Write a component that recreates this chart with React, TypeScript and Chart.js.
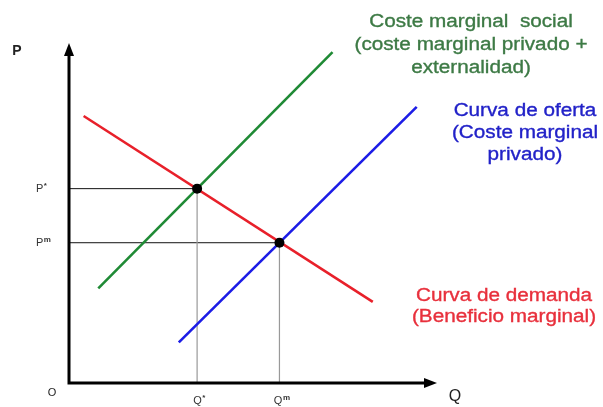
import React, { useEffect, useRef } from "react";
import { Chart, registerables } from "chart.js";

Chart.register(...registerables);

// ---- data (quantity Q, price P in arbitrary units) ----
const demandQ = [0.4, 8.3];
const demandP = [7.9, 2.4];
const socialCostQ = [0.8, 7.2];
const socialCostP = [2.8, 9.79];
const supplyQ = [3.0, 9.5];
const supplyP = [1.2, 8.17];
const equilibriumQ = [3.5, 5.75];
const equilibriumP = [5.75, 4.15];
const priceTickBase = ["P", "P"];
const priceTickSup = ["*", "m"];
const qtyTickBase = ["Q", "Q"];
const qtyTickSup = ["*", "m"];
const axisNames = { price: "P", quantity: "Q", origin: "O" };
const socialCostLabel = ["Coste marginal  social", "(coste marginal privado +", "externalidad)"];
const supplyLabel = ["Curva de oferta", "(Coste marginal", "privado)"];
const demandLabel = ["Curva de demanda", "(Beneficio marginal)"];

const RED = "#e8202a";
const GREEN = "#1f8a35";
const BLUE = "#1c1ce6";

const toPts = (xs: number[], ys: number[]) => xs.map((x, i) => ({ x, y: ys[i] }));

const FONT = '"Liberation Sans", Arial, sans-serif';

function drawStretchedText(ctx: CanvasRenderingContext2D, text: string, cx: number, cy: number, size: number, color: string, stretch = 1.15) {
  ctx.save();
  ctx.translate(cx, cy);
  ctx.scale(stretch, 1);
  ctx.font = `${size}px ${FONT}`;
  ctx.fillStyle = color;
  ctx.textAlign = "center";
  ctx.textBaseline = "middle";
  ctx.fillText(text, 0, 0);
  ctx.lineWidth = 0.35;
  ctx.strokeStyle = color;
  ctx.strokeText(text, 0, 0);
  ctx.restore();
}

function drawSup(ctx: CanvasRenderingContext2D, base: string, sup: string, x: number, y: number, align: "left" | "center") {
  ctx.save();
  ctx.fillStyle = "#333";
  ctx.textBaseline = "middle";
  ctx.font = `11px ${FONT}`;
  const bw = ctx.measureText(base).width;
  ctx.font = `8px ${FONT}`;
  const sw = ctx.measureText(sup).width;
  const start = align === "center" ? x - (bw + sw) / 2 : x;
  ctx.textAlign = "left";
  ctx.font = `11px ${FONT}`;
  ctx.fillText(base, start, y);
  ctx.font = `bold 8px ${FONT}`;
  ctx.fillText(sup, start + bw + 0.5, y - 3);
  ctx.restore();
}

const economicsPlugin = {
  id: "economicsAxes",
  afterDatasetsDraw(chart: any) {
    const ctx: CanvasRenderingContext2D = chart.ctx;
    const xs = chart.scales.x;
    const ys = chart.scales.y;
    const x0 = xs.getPixelForValue(0);
    const y0 = ys.getPixelForValue(0);
    const xMax = xs.getPixelForValue(xs.max);
    const yMax = ys.getPixelForValue(ys.max);
    ctx.save();
    // axes
    ctx.strokeStyle = "#000";
    ctx.fillStyle = "#000";
    ctx.lineWidth = 3;
    ctx.beginPath();
    ctx.moveTo(x0, y0 + 1.5);
    ctx.lineTo(x0, yMax + 8);
    ctx.moveTo(x0 - 1.5, y0);
    ctx.lineTo(xMax - 8, y0);
    ctx.stroke();
    // arrowheads
    ctx.beginPath();
    ctx.moveTo(x0, yMax - 2);
    ctx.lineTo(x0 - 5, yMax + 11);
    ctx.lineTo(x0 + 5, yMax + 11);
    ctx.closePath();
    ctx.fill();
    ctx.beginPath();
    ctx.moveTo(xMax + 2, y0);
    ctx.lineTo(xMax - 11, y0 - 5);
    ctx.lineTo(xMax - 11, y0 + 5);
    ctx.closePath();
    ctx.fill();

    // axis names
    ctx.fillStyle = "#222";
    ctx.textAlign = "center";
    ctx.textBaseline = "middle";
    ctx.font = `bold 14px ${FONT}`;
    ctx.fillText(axisNames.price, x0 - 52, yMax + 6);
    ctx.font = `16px ${FONT}`;
    ctx.fillText(axisNames.quantity, xMax + 20, y0 + 14);
    ctx.font = `11px ${FONT}`;
    ctx.fillText(axisNames.origin, x0 - 17, y0 + 10);

    // tick labels
    equilibriumP.forEach((p, i) => {
      drawSup(ctx, priceTickBase[i], priceTickSup[i], x0 - 33, ys.getPixelForValue(p), "left");
    });
    equilibriumQ.forEach((q, i) => {
      drawSup(ctx, qtyTickBase[i], qtyTickSup[i], xs.getPixelForValue(q) + 2, y0 + 18, "center");
    });

    // curve annotations
    socialCostLabel.forEach((t, i) => drawStretchedText(ctx, t, 471, 22 + i * 23, 18, "#3d7a45"));
    supplyLabel.forEach((t, i) => drawStretchedText(ctx, t, 525, 111 + i * 22, 18, "#2222c8"));
    demandLabel.forEach((t, i) => drawStretchedText(ctx, t, 504, 296 + i * 21, 18, "#e8303c"));
    ctx.restore();
  },
};

export default function App() {
  const ref = useRef<HTMLCanvasElement | null>(null);
  useEffect(() => {
    if (!ref.current) return;
    const line = (data: any, color: string, width: number) => ({
      data,
      showLine: true,
      borderColor: color,
      backgroundColor: color,
      borderWidth: width,
      pointRadius: 0,
      pointHoverRadius: 0,
      tension: 0,
    });
    const refLines: any[] = [];
    equilibriumQ.forEach((q, i) => {
      const p = equilibriumP[i];
      refLines.push(line([{ x: 0, y: p }, { x: q, y: p }], "#111", 1));
      refLines.push(line([{ x: q, y: p }, { x: q, y: 0 }], "#999", 1.2));
    });
    const chart = new Chart(ref.current, {
      type: "scatter",
      data: {
        datasets: [
          {
            data: toPts(equilibriumQ, equilibriumP),
            showLine: false,
            pointRadius: 5,
            pointBackgroundColor: "#000",
            pointBorderColor: "#000",
            borderWidth: 0,
            order: -1,
          },
          line(toPts(demandQ, demandP), RED, 2.6),
          line(toPts(socialCostQ, socialCostP), GREEN, 2.6),
          line(toPts(supplyQ, supplyP), BLUE, 2.6),
          ...refLines,
        ],
      },
      options: {
        responsive: false,
        animation: false,
        layout: { padding: { left: 69, right: 168, top: 45, bottom: 24 } },
        plugins: { legend: { display: false }, tooltip: { enabled: false } },
        events: [],
        scales: {
          x: { type: "linear", min: 0, max: 10, display: false },
          y: { type: "linear", min: 0, max: 10, display: false },
        },
      } as any,
      plugins: [economicsPlugin],
    });
    return () => chart.destroy();
  }, []);
  return (
    <div style={{ position: "absolute", left: 0, top: 0, width: 603, height: 407, background: "#fff" }}>
      <canvas ref={ref} width={603} height={407} style={{ display: "block" }} />
    </div>
  );
}
